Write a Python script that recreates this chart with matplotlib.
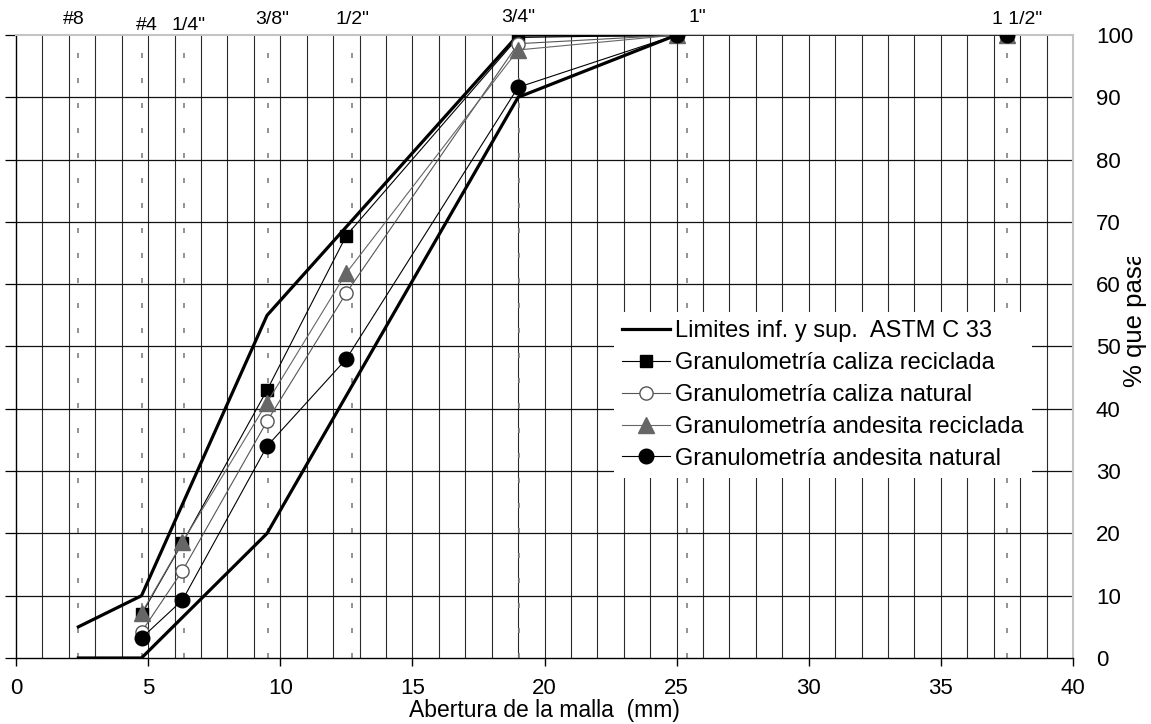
import matplotlib
matplotlib.use("Agg")
import matplotlib.pyplot as plt
from matplotlib.transforms import Bbox, TransformedBbox
import matplotlib.transforms as mtransforms

plt.rcParams['font.family'] = ['Liberation Sans', 'DejaVu Sans']

# Sieve openings (mm) and their names
sieve_mm = [2.36, 4.75, 6.35, 9.525, 12.7, 19.05, 25.4, 37.5]
sieve_names = ['#8', '#4', '1/4"', '3/8"', '1/2"', '3/4"', '1"', '1 1/2"']

# ASTM C 33 grading limits
lim_x = [2.36, 4.75, 9.5, 19.0, 25.0]
lim_upper = [5, 10, 55, 100, 100]
lim_lower = [0, 0, 20, 90, 100]

# Measured gradings (% passing)
grad_x = [4.75, 6.3, 9.5, 12.5, 19.0, 25.0, 37.5]
caliza_reciclada = [7, 18.5, 43, 67.8, 99.6, 100, 100]
caliza_natural = [4.2, 14, 38, 58.6, 98.6, 100, 100]
andesita_reciclada = [7.2, 18.6, 41, 61.8, 97.6, 100, 100]
andesita_natural = [3.2, 9.3, 34, 48, 91.6, 100, 100]

x_ticks = [0, 5, 10, 15, 20, 25, 30, 35, 40]
y_ticks = [0, 10, 20, 30, 40, 50, 60, 70, 80, 90, 100]

W, H = 1151, 724
fig = plt.figure(figsize=(W / 100, H / 100), dpi=100)
ax = fig.add_axes([16 / W, 1 - 658 / H, (1073 - 16) / W, (658 - 35) / H])

ax.set_xlim(0, 40)
ax.set_ylim(0, 100)

# grid: 1 mm verticals, 10 % horizontals
for xv in range(1, 40):
    ax.axvline(xv, color='#2a2a2a', lw=0.8, zorder=1)
for yv in y_ticks[1:-1]:
    ax.axhline(yv, color='#111111', lw=0.9, zorder=1)

# sieve reference lines
for xs in sieve_mm:
    ax.axvline(xs, color='#808080', lw=1.2, ls=(0, (3, 12)), zorder=1.5)

# grading limits
ax.plot(lim_x, lim_upper, color='black', lw=2.3, zorder=3,
        label='Limites inf. y sup.  ASTM C 33')
ax.plot(lim_x, lim_lower, color='black', lw=2.3, zorder=3)

ax.plot(grad_x, caliza_reciclada, color='black', lw=0.8, marker='s', ms=8.5,
        mfc='black', mec='black', zorder=4, label='Granulometría caliza reciclada')
ax.plot(grad_x, caliza_natural, color='#555555', lw=0.8, marker='o', ms=9.5,
        mfc='white', mec='#555555', mew=1.0, zorder=4, label='Granulometría caliza natural')
ax.plot(grad_x, andesita_reciclada, color='#666666', lw=0.8, marker='^', ms=11,
        mfc='#666666', mec='#666666', zorder=4, label='Granulometría andesita reciclada')
ax.plot(grad_x, andesita_natural, color='black', lw=0.8, marker='o', ms=10.5,
        mfc='black', mec='black', zorder=5, label='Granulometría andesita natural')

# spines
ax.spines['left'].set_color('black')
ax.spines['bottom'].set_color('black')
ax.spines['left'].set_linewidth(1.0)
ax.spines['bottom'].set_linewidth(1.0)
for side in ('top', 'right'):
    ax.spines[side].set_color('#c4c4c4')
    ax.spines[side].set_linewidth(1.5)
ax.axhline(100, color='#6a6a6a', lw=1.2, ls=(0, (3, 9)), zorder=2, clip_on=False)
ax.axvline(40, color='#6a6a6a', lw=1.2, ls=(0, (3, 9)), zorder=2, clip_on=False)

# ticks
ax.set_xticks(x_ticks)
ax.set_xticklabels([str(v) for v in x_ticks])
ax.tick_params(axis='x', direction='out', length=6, width=1.0, pad=8.5,
               labelsize=16, top=False)
ax.set_yticks(y_ticks)
ax.set_yticklabels([str(v) for v in y_ticks])
ax.tick_params(axis='y', direction='out', length=8, width=0.9, left=True,
               right=True, labelleft=False, labelright=True, pad=8.5, labelsize=16)
for t in ax.yaxis.get_major_ticks():
    t.tick2line.set_visible(False)

ax.set_xlabel('Abertura de la malla  (mm)', fontsize=16.5, labelpad=0)

# sieve names above the plot
name_dx = [-5, 5, 5, 4, 1, -1, 10, 10]
name_y = [19, 25, 25, 19, 19, 18, 18, 20]
for xs, name, dx, py in zip(sieve_mm, sieve_names, name_dx, name_y):
    tr = mtransforms.blended_transform_factory(ax.transData, fig.transFigure)
    off = mtransforms.offset_copy(tr, fig=fig, x=dx, y=0, units='dots')
    ax.text(xs, 1 - py / H, name, transform=off, ha='center', va='center',
            fontsize=14, clip_on=False)

# right-hand axis title, trimmed at the top
yl = fig.text(1135 / W, 1 - 387 / H, '% que pasa', rotation=90, ha='center',
              va='bottom', fontsize=18.5)
yl.set_clip_box(TransformedBbox(Bbox([[1100 / W, 0], [1, 1 - 257 / H]]), fig.transFigure))
yl.set_clip_on(True)

leg = ax.legend(loc='upper left', bbox_to_anchor=(614 / W, 1 - 312 / H),
                bbox_transform=fig.transFigure, frameon=True, fancybox=False,
                facecolor='white', edgecolor='none', framealpha=1.0,
                fontsize=17, handlelength=2.05, handletextpad=0.2,
                labelspacing=0.42, borderpad=0.34, borderaxespad=0)
leg.set_zorder(6)

fig.savefig('out.png', dpi=100, facecolor='white')
